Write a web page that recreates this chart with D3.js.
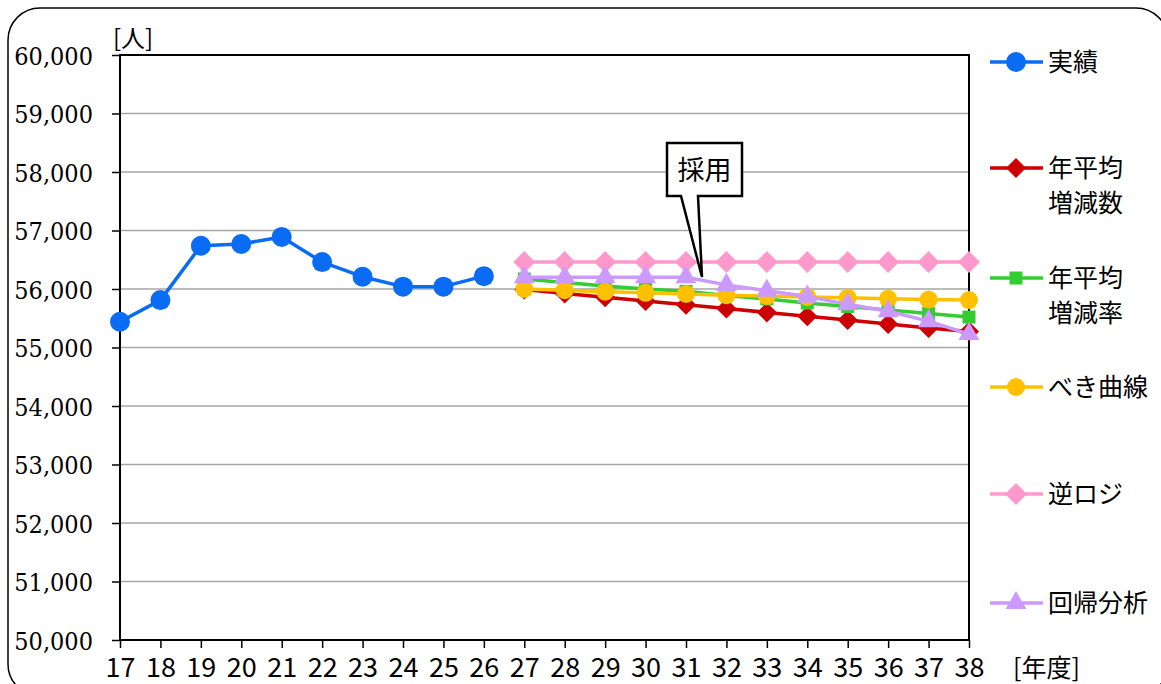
<!DOCTYPE html>
<html><head><meta charset="utf-8">
<script src="https://cdn.jsdelivr.net/npm/d3@7"></script>
<style>body{margin:0;background:#fff}svg{display:block}</style>
</head><body>
<svg id="c" width="1161" height="684"></svg>
<script>
// ---- data ----
const actualYears = [17,18,19,20,21,22,23,24,25,26];
const actualValues = [55440,55810,56740,56770,56890,56460,56210,56040,56040,56220];
const forecastYears = [27,28,29,30,31,32,33,34,35,36,37,38];
const avgIncrement = [55990,55925,55860,55795,55730,55665,55600,55535,55470,55400,55335,55275];
const avgRate      = [56170,56110,56050,56000,55960,55890,55830,55760,55700,55640,55580,55520];
const powerCurve   = [56000,55980,55955,55935,55915,55895,55880,55865,55850,55835,55820,55810];
const invLogistic  = [56460,56460,56460,56460,56460,56460,56460,56460,56460,56460,56460,56460];
const regression   = [56200,56200,56200,56200,56200,56070,55970,55870,55740,55620,55450,55230];
const yTicks = [50000,51000,52000,53000,54000,55000,56000,57000,58000,59000,60000];
const xTicks = d3.range(17,39);
const seriesNames = ["実績","年平均\n増減数","年平均\n増減率","べき曲線","逆ロジ","回帰分析"];

const svg = d3.select("#c");
const x = d3.scaleLinear().domain([17,38]).range([120,969]);
const y = d3.scaleLinear().domain([50000,60000]).range([640,55]);

// outer frame
svg.append("rect").attr("x",8).attr("y",8).attr("width",1160).attr("height",688)
  .attr("rx",32).attr("ry",32).attr("fill","#fff").attr("stroke","#000").attr("stroke-width",1.5);

// gridlines
svg.append("g").selectAll("line").data(yTicks).join("line")
  .attr("x1",120).attr("x2",969).attr("y1",d=>y(d)).attr("y2",d=>y(d))
  .attr("stroke","#a6a6a6").attr("stroke-width",1.3);

// y axis
const yAxis = d3.axisLeft(y).tickValues(yTicks).tickSize(8).tickFormat(d3.format(",d"));
const gy = svg.append("g").attr("transform","translate(120,0)").call(yAxis);
gy.select(".domain").remove();
gy.selectAll(".tick line").attr("stroke","#000").attr("stroke-width",1.5);
gy.selectAll(".tick text").attr("x",-27).attr("dy","0.36em")
  .attr("font-family","'DejaVu Serif Condensed','DejaVu Serif'").attr("font-stretch","condensed")
  .attr("font-size",25).attr("fill","#000");

// x axis
const xAxis = d3.axisBottom(x).tickValues(xTicks).tickSize(8).tickFormat(d=>d);
const gx = svg.append("g").attr("transform","translate(0,640)").call(xAxis);
gx.select(".domain").remove();
gx.selectAll(".tick line").attr("stroke","#000").attr("stroke-width",1.5);
gx.selectAll(".tick text").attr("y",37).attr("dy",0)
  .attr("font-family","'Liberation Sans Narrow','Noto Sans CJK JP'").attr("font-size",27).attr("fill","#000");

// plot box
svg.append("rect").attr("x",120).attr("y",55).attr("width",849).attr("height",585)
  .attr("fill","none").attr("stroke","#000").attr("stroke-width",2);

// unit labels
svg.append("text").attr("x",113).attr("y",47).text("[人]")
  .attr("font-family","'Noto Sans CJK JP'").attr("font-size",24).attr("fill","#000");
svg.append("text").attr("x",1013).attr("y",677).text("[年度]")
  .attr("font-family","'Noto Sans CJK JP'").attr("font-size",25).attr("fill","#000");

// markers
const sym = {
  circle: d3.symbol().type(d3.symbolCircle).size(Math.PI*10*10)(),
  circleS: d3.symbol().type(d3.symbolCircle).size(Math.PI*9*9)(),
  square: d3.symbol().type(d3.symbolSquare).size(13*13)(),
  triangle: d3.symbol().type(d3.symbolTriangle).size(190)(),
};
function diamond(h){ return `M0,${-h}L${h},0L0,${h}L${-h},0Z`; }

const series = [
  {name:seriesNames[0], years:actualYears, vals:actualValues, color:"#0a6cf5", marker:sym.circle},
  {name:seriesNames[1], years:forecastYears, vals:avgIncrement, color:"#cc0000", marker:diamond(10)},
  {name:seriesNames[2], years:forecastYears, vals:avgRate, color:"#33cc33", marker:sym.square},
  {name:seriesNames[3], years:forecastYears, vals:powerCurve, color:"#ffc000", marker:sym.circleS},
  {name:seriesNames[4], years:forecastYears, vals:invLogistic, color:"#ff99cc", marker:diamond(11)},
  {name:seriesNames[5], years:forecastYears, vals:regression, color:"#cc99ff", marker:sym.triangle},
];

const line = d3.line().x(d=>x(d[0])).y(d=>y(d[1]));
series.forEach(s=>{
  const pts = s.years.map((yr,i)=>[yr,s.vals[i]]);
  const g = svg.append("g");
  g.append("path").attr("d",line(pts)).attr("fill","none").attr("stroke",s.color)
    .attr("stroke-width",3.5).attr("stroke-linejoin","round");
  g.selectAll("path.m").data(pts).join("path").attr("class","m")
    .attr("transform",d=>`translate(${x(d[0])},${y(d[1])})`)
    .attr("d",s.marker).attr("fill",s.color);
});

// legend
const legendY = [62,168,278,387,494,603];
series.forEach((s,i)=>{
  const g = svg.append("g").attr("transform",`translate(0,${legendY[i]})`);
  g.append("line").attr("x1",990).attr("x2",1043).attr("stroke",s.color).attr("stroke-width",3.5);
  g.append("path").attr("transform","translate(1016,0)").attr("d",s.marker).attr("fill",s.color);
  s.name.split("\n").forEach((t,k)=>{
    g.append("text").attr("x",1048).attr("y",9+k*35).text(t)
      .attr("font-family","'Noto Sans CJK JP'").attr("font-size",25).attr("fill","#000");
  });
});

// callout
const cx0=667, cx1=742, cy0=143, cy1=196;
const tip=[702,277];
svg.append("path")
  .attr("d",`M${cx0},${cy0}L${cx1},${cy0}L${cx1},${cy1}L698,${cy1}L${tip[0]},${tip[1]}L681,${cy1}L${cx0},${cy1}Z`)
  .attr("fill","#fff").attr("stroke","#000").attr("stroke-width",2.5).attr("stroke-linejoin","miter");
svg.append("text").attr("x",(cx0+cx1)/2).attr("y",180).attr("text-anchor","middle").text("採用")
  .attr("font-family","'Noto Sans CJK JP'").attr("font-size",27).attr("fill","#000");
</script>
</body></html>
